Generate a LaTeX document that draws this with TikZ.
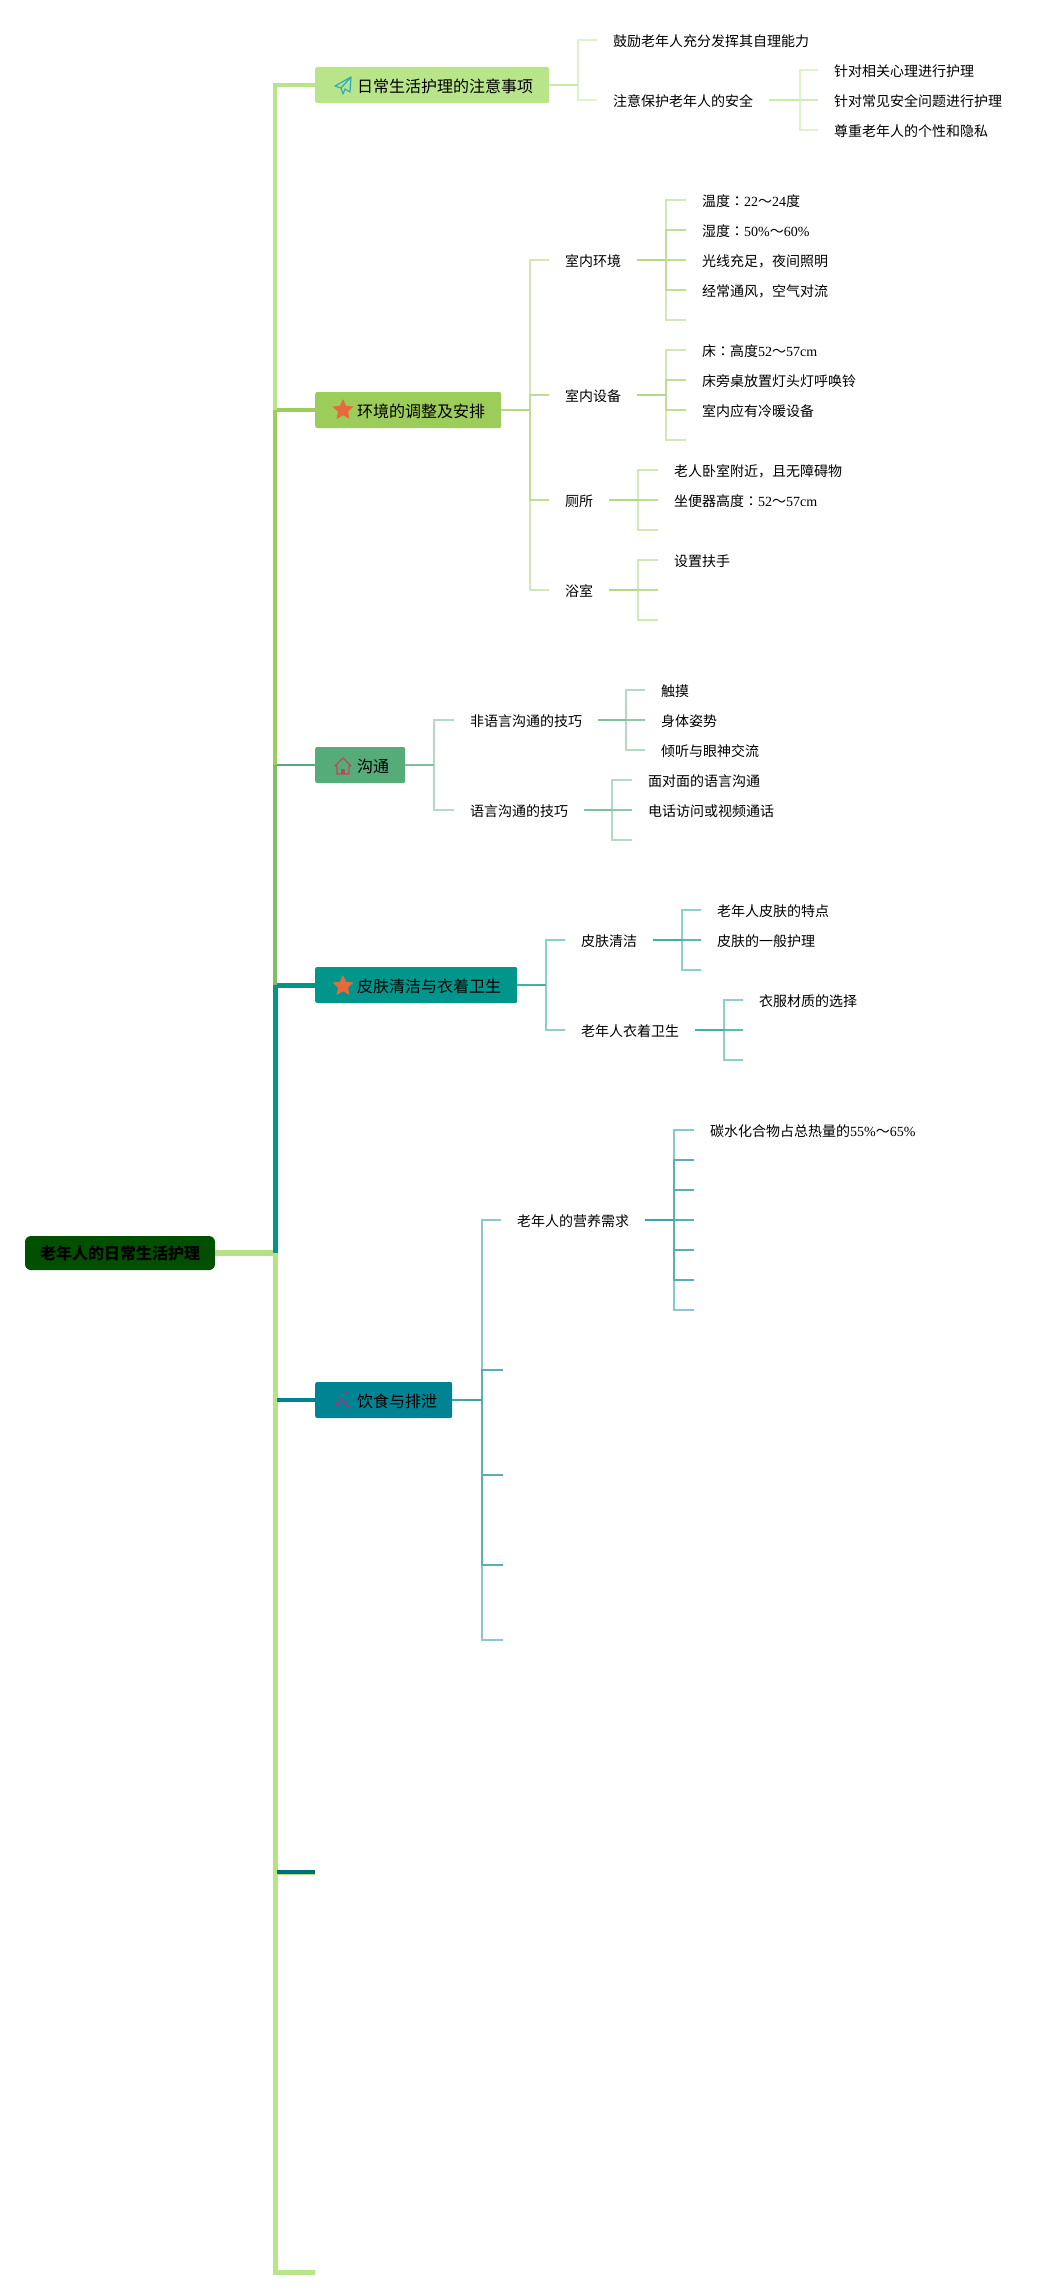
\documentclass[tikz,border=0pt]{standalone}
\usepackage{fontspec}
\setmainfont{Liberation Serif}
\newfontfamily\cjk{Noto Sans CJK SC}
\newfontfamily\cjktc{Noto Sans CJK TC}
\newcommand{\mh}{{\cjktc ：}}
\newcommand{\lat}[1]{{\rmfamily #1}}
\usetikzlibrary{shapes.geometric}

\definecolor{rootc}{RGB}{0,80,0}
\definecolor{topa}{RGB}{184,228,138}
\definecolor{topb}{RGB}{156,204,90}
\definecolor{topc}{RGB}{86,172,120}
\definecolor{topd}{RGB}{0,150,140}
\definecolor{tope}{RGB}{0,131,146}
\definecolor{topf}{RGB}{0,110,128}
\definecolor{starc}{RGB}{232,105,60}
\definecolor{homec}{RGB}{190,70,90}
\definecolor{wandc}{RGB}{180,48,110}
\definecolor{planec}{RGB}{50,170,190}

\begin{document}
\begin{tikzpicture}[x=1pt,y=-1pt]
	\tikzset{
		root/.style={rectangle, rounded corners=6pt, fill=rootc, minimum height=34pt, minimum width=190pt, inner sep=0pt, font=\fontsize{16}{16}\cjk\bfseries},
		topic/.style={rectangle, rounded corners=2pt, fill=#1, minimum height=36pt, anchor=west, inner ysep=0pt, inner xsep=0pt},
		toptext/.style={anchor=west, inner sep=0pt, text height=16pt, text depth=0.3pt, font=\fontsize{16}{16}\cjk},
		mid/.style={anchor=west, inner xsep=16pt, inner ysep=0pt, text height=14pt, text depth=0.3pt, font=\fontsize{14}{14}\cjk},
		leaf/.style={anchor=west, inner xsep=16pt, inner ysep=0pt, text height=14pt, text depth=0.3pt, font=\fontsize{14}{14}\cjk},
		stem/.style={line width=2.6pt, draw=#1!75},
		twig/.style={line width=2pt, draw=#1!45},
		twigin/.style={line width=2pt, draw=#1!65},
		trunk/.style={line width=#1}
	}
	\useasboundingbox (0,0) rectangle (1061,2296);

	%---NODES---
	\node[root] (r) at (120,1253) {老年人的日常生活护理};

	\node[topic=topa, minimum width=234pt] (a) at (315,85) {};
	\node[topic=topb, minimum width=186pt] (b) at (315,410) {};
	\node[topic=topc, minimum width=90pt] (c) at (315,765) {};
	\node[topic=topd, minimum width=202pt] (d) at (315,985) {};
	\node[topic=tope, minimum width=137pt] (e) at (315,1400) {};
	\coordinate (f) at (315,1872);
	\coordinate (g) at (315,2272);

	\node[toptext] (atext) at (357,85) {日常生活护理的注意事项};
	\node[toptext] (btext) at (357,410) {环境的调整及安排};
	\node[toptext] (ctext) at (357,765) {沟通};
	\node[toptext] (dtext) at (357,985) {皮肤清洁与衣着卫生};
	\node[toptext] (etext) at (357,1400) {饮食与排泄};

	% first topic
	\node[leaf] (a1) at (597,40) {鼓励老年人充分发挥其自理能力};
	\node[mid] (a2) at (597,100) {注意保护老年人的安全};
	\node[leaf] (a21) at (818,70) {针对相关心理进行护理};
	\node[leaf] (a22) at (818,100) {针对常见安全问题进行护理};
	\node[leaf] (a23) at (818,130) {尊重老年人的个性和隐私};

	% second topic
	\node[mid] (b1) at (549,260) {室内环境};
	\node[leaf] (b11) at (686,200) {温度\mh\lat{22}～\lat{24}度};
	\node[leaf] (b12) at (686,230) {湿度\mh\lat{50\%}～\lat{60\%}};
	\node[leaf] (b13) at (686,260) {光线充足，夜间照明};
	\node[leaf] (b14) at (686,290) {经常通风，空气对流};
	\coordinate (b15) at (686,320);
	\node[mid] (b2) at (549,395) {室内设备};
	\node[leaf] (b21) at (686,350) {床\mh 高度\lat{52}～\lat{57cm}};
	\node[leaf] (b22) at (686,380) {床旁桌放置灯头灯呼唤铃};
	\node[leaf] (b23) at (686,410) {室内应有冷暖设备};
	\coordinate (b24) at (686,440);
	\node[mid] (b3) at (549,500) {厕所};
	\node[leaf] (b31) at (658,470) {老人卧室附近，且无障碍物};
	\node[leaf] (b32) at (658,500) {坐便器高度\mh\lat{52}～\lat{57cm}};
	\coordinate (b33) at (658,530);
	\node[mid] (b4) at (549,590) {浴室};
	\node[leaf] (b41) at (658,560) {设置扶手};
	\coordinate (b42) at (658,590);
	\coordinate (b43) at (658,620);

	% third topic
	\node[mid] (c1) at (454,720) {非语言沟通的技巧};
	\node[leaf] (c11) at (645,690) {触摸};
	\node[leaf] (c12) at (645,720) {身体姿势};
	\node[leaf] (c13) at (645,750) {倾听与眼神交流};
	\node[mid] (c2) at (454,810) {语言沟通的技巧};
	\node[leaf] (c21) at (632,780) {面对面的语言沟通};
	\node[leaf] (c22) at (632,810) {电话访问或视频通话};
	\coordinate (c23) at (632,840);

	% fourth topic
	\node[mid] (d1) at (565,940) {皮肤清洁};
	\node[leaf] (d11) at (701,910) {老年人皮肤的特点};
	\node[leaf] (d12) at (701,940) {皮肤的一般护理};
	\coordinate (d13) at (701,970);
	\node[mid] (d2) at (565,1030) {老年人衣着卫生};
	\node[leaf] (d21) at (743,1000) {衣服材质的选择};
	\coordinate (d22) at (743,1030);
	\coordinate (d23) at (743,1060);

	% fifth topic
	\node[mid] (e1) at (501,1220) {老年人的营养需求};
	\node[leaf] (e11) at (694,1130) {碳水化合物占总热量的\lat{55\%}～\lat{65\%}};
	\coordinate (e12) at (694,1160);
	\coordinate (e13) at (694,1190);
	\coordinate (e14) at (694,1220);
	\coordinate (e15) at (694,1250);
	\coordinate (e16) at (694,1280);
	\coordinate (e17) at (694,1310);
	\coordinate (e2) at (503,1370);
	\coordinate (e3) at (503,1475);
	\coordinate (e4) at (503,1565);
	\coordinate (e5) at (503,1640);

	%---FORKS---
	\coordinate (ja) at (578,85);
	\coordinate (ja2) at (800,100);
	\coordinate (jb) at (530,410);
	\coordinate (jb1) at (666,260);
	\coordinate (jb2) at (666,395);
	\coordinate (jb3) at (638,500);
	\coordinate (jb4) at (638,590);
	\coordinate (jc) at (434,765);
	\coordinate (jc1) at (626,720);
	\coordinate (jc2) at (612,810);
	\coordinate (jd) at (546,985);
	\coordinate (jd1) at (682,940);
	\coordinate (jd2) at (724,1030);
	\coordinate (je) at (482,1400);
	\coordinate (je1) at (674,1220);
	\coordinate (tr) at (275,1253);

	%---EDGES---
	\draw[trunk=5.5pt, draw=topa!90!topb] (r.east) -- (tr);
	\draw[trunk=5pt, draw=topa!92!topb] (tr) |- (f);
	\draw[trunk=5pt, draw=topa] (275,1870) |- (g);
	\draw[trunk=5pt, draw=topd] (tr) |- (d.west);
	\draw[trunk=4pt, draw=topb!55!topc] (275,985) -- (275,765);
	\draw[trunk=2.6pt, draw=topc] (275,765) -- (c.west);
	\draw[trunk=4pt, draw=topb] (275,765) |- (b.west);
	\draw[trunk=4pt, draw=topa] (275,410) |- (a.west);
	\draw[trunk=4pt, draw=tope] (277,1400) -- (e.west);
	\draw[trunk=4pt, draw=topf] (277,1872) -- (f);

	% first topic
	\foreach \i in {a1,a2} \draw[twig=topa] (ja) |- (\i.west);
	\draw[stem=topa] (a.east) -- (ja);
	\foreach \i in {a21,a23} \draw[twig=topa] (ja2) |- (\i.west);
	\draw[twigin=topa] (ja2) -- (a22.west);
	\draw[stem=topa] (a2.east) -- (ja2);

	% second topic
	\foreach \i in {b1,b4} \draw[twig=topb] (jb) |- (\i.west);
	\draw[twigin=topb] (jb) |- (b2.west);
	\draw[twigin=topb] (jb) |- (b3.west);
	\draw[stem=topb] (b.east) -- (jb);
	\foreach \i in {b11,b15} \draw[twig=topb] (jb1) |- (\i.west);
	\foreach \i in {b12,b13,b14} \draw[twigin=topb] (jb1) |- (\i.west);
	\draw[stem=topb] (b1.east) -- (jb1);
	\foreach \i in {b21,b24} \draw[twig=topb] (jb2) |- (\i.west);
	\foreach \i in {b22,b23} \draw[twigin=topb] (jb2) |- (\i.west);
	\draw[stem=topb] (b2.east) -- (jb2);
	\foreach \i in {b31,b33} \draw[twig=topb] (jb3) |- (\i.west);
	\draw[twigin=topb] (jb3) -- (b32.west);
	\draw[stem=topb] (b3.east) -- (jb3);
	\foreach \i in {b41,b43} \draw[twig=topb] (jb4) |- (\i.west);
	\draw[twigin=topb] (jb4) -- (b42);
	\draw[stem=topb] (b4.east) -- (jb4);

	% third topic
	\foreach \i in {c1,c2} \draw[twig=topc] (jc) |- (\i.west);
	\draw[stem=topc] (c.east) -- (jc);
	\foreach \i in {c11,c13} \draw[twig=topc] (jc1) |- (\i.west);
	\draw[twigin=topc] (jc1) -- (c12.west);
	\draw[stem=topc] (c1.east) -- (jc1);
	\foreach \i in {c21,c23} \draw[twig=topc] (jc2) |- (\i.west);
	\draw[twigin=topc] (jc2) -- (c22.west);
	\draw[stem=topc] (c2.east) -- (jc2);

	% fourth topic
	\foreach \i in {d1,d2} \draw[twig=topd] (jd) |- (\i.west);
	\draw[stem=topd] (d.east) -- (jd);
	\foreach \i in {d11,d13} \draw[twig=topd] (jd1) |- (\i.west);
	\draw[twigin=topd] (jd1) -- (d12.west);
	\draw[stem=topd] (d1.east) -- (jd1);
	\foreach \i in {d21,d23} \draw[twig=topd] (jd2) |- (\i.west);
	\draw[twigin=topd] (jd2) -- (d22);
	\draw[stem=topd] (d2.east) -- (jd2);

	% fifth topic
	\foreach \i in {e1,e5} \draw[twig=tope] (je) |- (\i.west);
	\draw[twigin=tope] (je) |- (e2);
	\draw[twigin=tope] (je) |- (e3);
	\draw[twigin=tope] (je) |- (e4);
	\draw[stem=tope] (e.east) -- (je);
	\foreach \i in {e11,e17} \draw[twig=tope] (je1) |- (\i.west);
	\draw[twigin=tope] (je1) |- (e12);
	\draw[twigin=tope] (je1) |- (e13);
	\draw[twigin=tope] (je1) -- (e14);
	\draw[twigin=tope] (je1) |- (e15);
	\draw[twigin=tope] (je1) |- (e16);
	\draw[stem=tope] (e1.east) -- (je1);

	%---ICONS---
	\draw[line width=1.2pt, draw=planec, line join=round] (351,77) -- (335,86) -- (341,88) -- (343,94) -- (345,89) -- (350,92) -- cycle (351,77) -- (341,88);
	\node[star, star points=5, star point ratio=2.1, fill=starc, inner sep=0pt, minimum size=22pt] (bstar) at (343,410) {};
	\draw[line width=1.2pt, draw=homec, line join=round] (335,766) -- (343,758) -- (351,766) -- (349,766) -- (349,774) -- (337,774) -- (337,766) -- cycle;
	\fill[homec] (341,769) rectangle (345,774);
	\node[star, star points=5, star point ratio=2.1, fill=starc, inner sep=0pt, minimum size=22pt] (dstar) at (343,986) {};
	\draw[line width=1.8pt, draw=wandc] (340,1398) -- (349,1407);
	\fill[wandc] (337,1404) circle (2pt) (346,1393) circle (1.6pt);
\end{tikzpicture}
\end{document}
